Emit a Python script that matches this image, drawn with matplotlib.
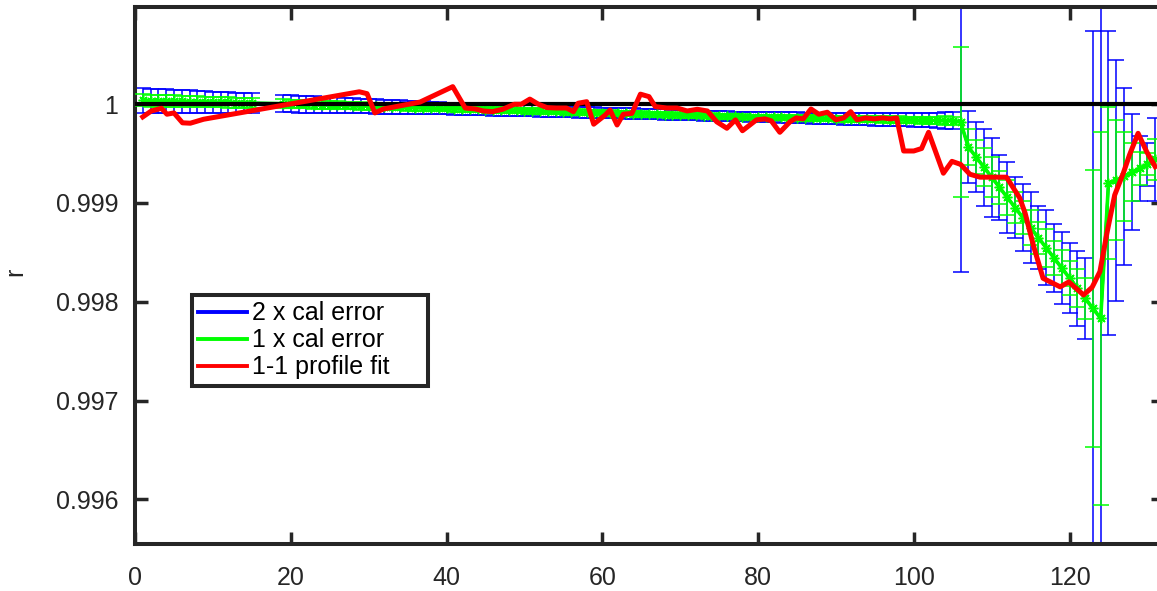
import matplotlib
matplotlib.use('Agg')
import matplotlib.pyplot as plt
from matplotlib.lines import Line2D
import numpy as np

plt.rcParams['font.family'] = ['Liberation Sans', 'DejaVu Sans']

# ---------------- data ----------------
x_cal = list(range(1, 16)) + list(range(19, 132))

r_cal = [
    1.000037, 1.000035, 1.000033, 1.000031, 1.000029, 1.000027, 1.000025, 1.000023,
    1.000021, 1.000020, 1.000018, 1.000016, 1.000014, 1.000012, 1.000010,
    # 19-40
    1.000004, 1.000002, 0.999999, 0.999997, 0.999995, 0.999993, 0.999990, 0.999988,
    0.999986, 0.999983, 0.999981, 0.999979, 0.999976, 0.999974, 0.999972, 0.999969,
    0.999967, 0.999965, 0.999962, 0.999960, 0.999958, 0.999955,
    # 41-79
    0.999953, 0.999951, 0.999949, 0.999947, 0.999944, 0.999942, 0.999940, 0.999938,
    0.999936, 0.999933, 0.999931, 0.999929, 0.999927, 0.999925, 0.999922, 0.999920,
    0.999918, 0.999916, 0.999914, 0.999911, 0.999909, 0.999907, 0.999905, 0.999903,
    0.999900, 0.999898, 0.999896, 0.999894, 0.999892, 0.999889, 0.999887, 0.999885,
    0.999883, 0.999881, 0.999878, 0.999876, 0.999874, 0.999872, 0.999870,
    # 80-106
    0.999868, 0.999867, 0.999865, 0.999864, 0.999862, 0.999861, 0.999859, 0.999858,
    0.999856, 0.999855, 0.999853, 0.999852, 0.999850, 0.999849, 0.999847, 0.999846,
    0.999844, 0.999843, 0.999841, 0.999840, 0.999838, 0.999837, 0.999835, 0.999834,
    0.999833, 0.999831, 0.999820,
    # 107-124
    0.999566, 0.999464, 0.999361, 0.999260, 0.999158, 0.999056, 0.998953, 0.998851,
    0.998749, 0.998647, 0.998546, 0.998443, 0.998341, 0.998239, 0.998137, 0.998034,
    0.997932, 0.997832,
    # 125-131
    0.999200, 0.999230, 0.999267, 0.999310, 0.999350, 0.999390, 0.999440,
]

# calibration error (1 x), in parts per million
cal_err_ppm = [
    61.5, 60.6, 59.7, 58.8, 57.9, 57.0, 56.1, 55.2, 54.3, 53.4, 52.5, 51.6, 50.7, 49.8, 49.0,
    # 19-40
    44.0, 43.3, 42.6, 42.0, 41.3, 40.6, 40.0, 39.3, 38.6, 38.0, 37.3, 36.6, 36.0, 35.3,
    34.6, 34.0, 33.3, 32.6, 32.0, 31.3, 30.6, 30.0,
    # 41-79
    29.8, 29.7, 29.5, 29.4, 29.2, 29.1, 28.9, 28.8, 28.6, 28.5, 28.3, 28.2, 28.0, 27.8,
    27.7, 27.5, 27.4, 27.2, 27.1, 26.9, 26.8, 26.6, 26.5, 26.3, 26.2, 26.0, 25.8, 25.7,
    25.5, 25.4, 25.2, 25.1, 24.9, 24.8, 24.6, 24.5, 24.3, 24.2, 24.0,
    # 80-106
    24.5, 25.0, 25.5, 26.0, 26.5, 27.0, 27.5, 28.0, 28.5, 29.0, 29.5, 30.0, 30.5, 31.0,
    31.5, 32.0, 32.0, 32.5, 33.0, 33.0, 33.5, 34.0, 36.0, 38.0, 42.0, 42.0, 760.0,
    # 107-124
    180, 175, 195, 200, 165, 180, 155, 170, 180, 160, 190, 170, 180, 175, 190, 205,
    1405, 1890,
    # 125-131
    770, 610, 450, 293, 165, 110, 210,
]

x_fit = [
    1.0, 2.1, 3.4, 4.1, 5.0, 6.1, 7.1, 8.8, 28.8, 29.8, 30.8, 31.9, 36.6, 40.8,
    42.4, 43.7, 44.7, 45.9, 47.2, 48.7, 49.6, 50.7, 51.8, 52.9, 54.1, 55.4, 56.3,
    56.9, 58.0, 58.9, 60.4, 61.0, 61.9, 62.7, 63.8, 64.9, 66.0, 66.8, 68.3, 69.6,
    70.9, 72.2, 73.5, 74.7, 76.0, 77.1, 78.0, 79.8, 80.9, 81.7, 82.8, 84.1, 84.9,
    85.8, 86.8, 87.8, 88.9, 90.0, 91.0, 91.9, 92.7, 93.8, 94.9, 96.0, 97.0, 97.8,
    98.7, 100.0, 101.0, 101.9, 103.8, 104.9, 106.0, 107.2, 108.5, 111.9, 113.6,
    114.3, 115.4, 116.6, 118.8, 119.9, 121.8, 122.9, 123.9, 124.8, 125.8, 126.9,
    127.7, 128.8, 129.9, 131.0,
]
r_fit = [
    0.999870, 0.999930, 0.999957, 0.999897, 0.999910, 0.999810, 0.999806, 0.999846,
    1.000124, 1.000105, 0.999910, 0.999950, 1.000020, 1.000176,
    0.999960, 0.999950, 0.999930, 0.999923, 0.999947, 0.999998, 0.999998, 1.000050,
    0.999998, 0.999964, 0.999960, 0.999960, 0.999923,
    1.000008, 1.000024, 0.999796, 0.999890, 0.999940, 0.999788, 0.999897, 0.999905,
    1.000100, 1.000075, 0.999974, 0.999960, 0.999960,
    0.999930, 0.999947, 0.999930, 0.999820, 0.999755, 0.999840, 0.999730, 0.999840,
    0.999850, 0.999830, 0.999714, 0.999820, 0.999860,
    0.999850, 0.999950, 0.999897, 0.999917, 0.999840, 0.999860, 0.999923, 0.999840,
    0.999860, 0.999850, 0.999860, 0.999850, 0.999860,
    0.999525, 0.999525, 0.999550, 0.999714, 0.999300, 0.999420, 0.999390, 0.999290,
    0.999260, 0.999260, 0.999050,
    0.998895, 0.998557, 0.998237, 0.998150, 0.998200, 0.998068, 0.998146, 0.998304,
    0.998695, 0.999080, 0.999300,
    0.999485, 0.999704, 0.999518, 0.999366,
]

legend_labels = ['2 x cal error', '1 x cal error', '1-1 profile fit']
x_ticks = [0, 20, 40, 60, 80, 100, 120]
y_ticks = [0.996, 0.997, 0.998, 0.999, 1.0]
y_tick_labels = ['0.996', '0.997', '0.998', '0.999', '1']

# ---------------- plot ----------------
W, H = 1157, 591
fig = plt.figure(figsize=(W / 100, H / 100), dpi=100)
ax = fig.add_axes([135 / W, 1 - 544 / H, (1163 - 135) / W, (544 - 7) / H])

err = np.array(cal_err_ppm) * 1e-6
xc = np.array(x_cal)
rc = np.array(r_cal)

ax.errorbar(xc, rc, yerr=2 * err, color='blue', lw=2, elinewidth=1.1,
            capsize=5.8, capthick=1.1, zorder=2)
ax.errorbar(xc, rc, yerr=err, color=(0, 1, 0), lw=2.6, elinewidth=1.1,
            capsize=5.8, capthick=1.1, marker=(8, 2, 0), ms=7, mew=1.1, zorder=3)
ax.axhline(1.0, color='black', lw=3, zorder=4)
ax.plot(x_fit, r_fit, color='red', lw=3.6, zorder=5)

ax.set_xticks(x_ticks)
ax.set_yticks(y_ticks)
ax.set_yticklabels(y_tick_labels)
ax.set_xlim(0, 132)
ax.set_ylim(0.995548, 1.000982)

dark = '#262626'
for sp in ax.spines.values():
    sp.set_linewidth(2.9)
    sp.set_color(dark)
ax.tick_params(direction='in', length=9, width=2.5, colors=dark,
               labelsize=18, top=True, right=True)
ax.tick_params(axis='y', pad=12)
ax.tick_params(axis='x', pad=16)

fig.text(15 / W, 1 - 272 / H, 'r', rotation=90, ha='center', va='center',
         fontsize=18, color=dark)

handles = [Line2D([], [], color='blue', lw=2.8),
           Line2D([], [], color=(0, 1, 0), lw=2.8),
           Line2D([], [], color='red', lw=2.8)]
x0 = (191.7 - 135) / 1028
y0 = (544 - 393) / 537
leg = ax.legend(handles, legend_labels, loc='upper left', mode='expand',
                bbox_to_anchor=(x0, y0, (428 - 191.7) / 1028, (393 - 295) / 537),
                borderaxespad=0, fontsize=18, frameon=True, fancybox=False,
                framealpha=1, edgecolor=dark, handlelength=1.95,
                handletextpad=0.2, borderpad=0.25, labelspacing=0.12)
leg.get_frame().set_linewidth(2.9)
leg.set_zorder(10)

fig.savefig('out.png', dpi=100)
